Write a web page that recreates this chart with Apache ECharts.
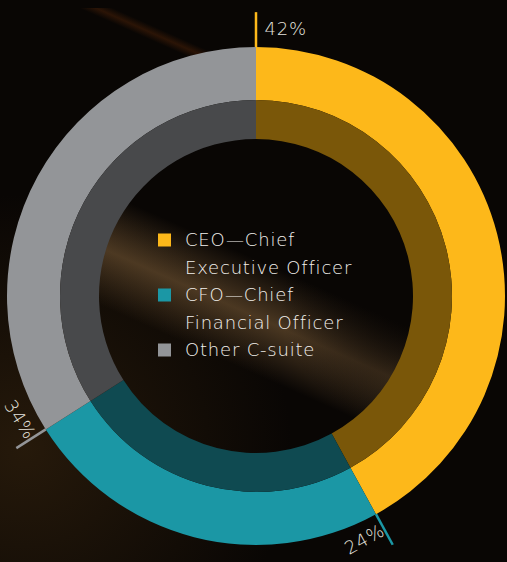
<!DOCTYPE html>
<html>
<head>
<meta charset="utf-8">
<script src="https://cdn.jsdelivr.net/npm/echarts@6/dist/echarts.min.js"></script>
<style>
  html, body { margin: 0; padding: 0; background: #090604; }
  #chart {
    width: 507px; height: 562px;
    background-color: #090604;
    background-image:
      linear-gradient(24deg, transparent 50%, rgba(115, 50, 10, 0.32) 54%, transparent 58%),
      radial-gradient(circle 130px at 410px 300px, rgba(9, 6, 4, 0.85), transparent),
      linear-gradient(24deg, transparent 33%, rgba(115, 86, 52, 0.62) 45.5%, transparent 58%),
      radial-gradient(ellipse 75% 65% at 5% 80%, rgba(45, 30, 12, 0.8), transparent 70%);
    background-size: 220px 90px, 100% 100%, 320px 320px, 100% 100%;
    background-position: 70px 8px, 0 0, 96px 136px, 0 0;
    background-repeat: no-repeat;
  }
  #chart text { letter-spacing: 0.8px; }
</style>
</head>
<body>
<div id="chart"></div>
<script>
// share of each role
var categories = ["CEO\u2014Chief\nExecutive Officer", "CFO\u2014Chief\nFinancial Officer", "Other C-suite"];
var values = [42, 24, 34];
var outerColors = ["#fdb81a", "#1b97a5", "#939598"];
var innerColors = ["#7a5709", "#0f4a51", "#48494b"];

var center = [256, 296];
var outerR = 249;

var chart = echarts.init(document.getElementById("chart"), null, { renderer: "svg" });

// start of each slice (percent), used to put the % label at the slice edge
var starts = [];
values.reduce(function (acc, v) {
  starts.push(acc);
  return acc + v;
}, 0);

var labelFont = "200 18px 'DejaVu Sans'";

chart.setOption({
  backgroundColor: "transparent",
  animation: false,
  legend: {
    orient: "vertical",
    left: 158,
    top: 226,
    padding: 0,
    itemGap: 0,
    itemWidth: 22,
    itemHeight: 55,
    selectedMode: false,
    // square at the first text line, blank room on the right for the gap
    icon: "path://M0,7.5L13,7.5L13,20.5L0,20.5Z M0,0L22,0 M0,55L22,55",
    itemStyle: { borderWidth: 0 },
    formatter: function (name) {
      return name.indexOf("\n") < 0 ? name + "\n " : name;
    },
    textStyle: {
      color: "#f2f0ec",
      fontFamily: "DejaVu Sans",
      fontWeight: 200,
      fontSize: 18,
      lineHeight: 27.5
    },
    data: categories
  },
  polar: { center: center, radius: outerR },
  angleAxis: {
    type: "value", min: 0, max: 100, startAngle: 90, clockwise: true,
    show: false
  },
  radiusAxis: { type: "value", min: 0, max: 100, show: false },
  series: [
    {
      type: "pie",
      center: center,
      radius: [196, outerR],
      silent: true,
      label: { show: false },
      labelLine: { show: false },
      data: categories.map(function (c, i) {
        return { name: c, value: values[i], itemStyle: { color: outerColors[i] } };
      })
    },
    {
      type: "pie",
      center: center,
      radius: [157, 196],
      silent: true,
      label: { show: false },
      labelLine: { show: false },
      data: categories.map(function (c, i) {
        return { name: c, value: values[i], itemStyle: { color: innerColors[i] } };
      })
    },
    {
      type: "custom",
      coordinateSystem: "polar",
      silent: true,
      encode: { radius: 0, angle: 1 },
      data: values.map(function (v, i) {
        return [100, starts[i], v];
      }),
      renderItem: function (params, api) {
        var i = params.dataIndex;
        var start = api.value(1);
        var pct = api.value(2);
        var theta = start / 100 * Math.PI * 2;
        var lower = theta > Math.PI / 2 && theta < Math.PI * 1.5;
        var p0 = api.coord([100, start]);
        var p1 = api.coord([114, start]);
        var p2 = api.coord([lower ? 106.5 : 107.5, start + (lower ? 0.05 : 0.5)]);
        return {
          type: "group",
          children: [
            {
              type: "line",
              shape: { x1: p0[0], y1: p0[1], x2: p1[0], y2: p1[1] },
              style: { stroke: outerColors[i], lineWidth: 2.5 }
            },
            {
              type: "text",
              x: p2[0],
              y: p2[1],
              rotation: lower ? Math.PI - theta : -theta,
              style: {
                text: pct + "%",
                font: labelFont,
                fill: "#e4e2de",
                align: lower ? "right" : "left",
                verticalAlign: "middle"
              }
            }
          ]
        };
      }
    }
  ]
});
</script>
</body>
</html>
